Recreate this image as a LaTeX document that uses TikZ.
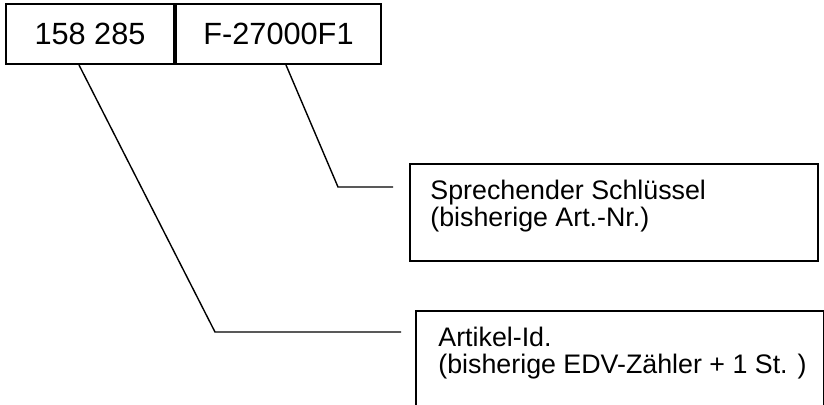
\documentclass[tikz,border=0pt]{standalone}
\usepackage{fontspec}
\setmainfont{Liberation Sans}
\usetikzlibrary{positioning}

\begin{document}
\begin{tikzpicture}[x=0.5pt,y=-0.5pt,
  cell/.style={rectangle,draw,line width=1pt,inner sep=0pt,minimum height=30pt,font=\fontsize{15.35}{18}\selectfont},
  note box/.style={rectangle,draw,line width=1pt,inner sep=0pt,anchor=north west,minimum width=204pt},
  note text/.style={align=left,inner sep=0pt,font=\fontsize{13.4}{13.5}\selectfont},
  lead/.style={line width=0.7pt}]

  \useasboundingbox (0,0) rectangle (824,405);

  % number field
  \node[cell,minimum width=84pt,anchor=north west] (id) at (5,3) {158 285\hspace{4.5pt}};
  \node[cell,minimum width=102.5pt,anchor=west] (key) at (id.east) {F-27000F1\hspace{4.5pt}};

  % explanations
  \node[note box,minimum height=48.5pt] (key box) at (409,163) {};
  \node[note text,below right=8.5pt and 10.5pt of key box.north west] (key text)
    {Sprechender Schlüssel\\(bisherige Art.-Nr.)};
  \node[note box,minimum height=50pt] (id box) at (415,310) {};
  \node[note text,below right=8.5pt and 11.5pt of id box.north west] (id text)
    {Artikel-Id.\\(bisherige EDV-Zähler + 1 St. )};

  % leader lines
  \coordinate (key bend) at (338,187);
  \coordinate (key end) at (393,187);
  \coordinate (id bend) at (215,332);
  \coordinate (id end) at (401,332);
  \draw[lead] ([xshift=3.75pt]key.south) -- (key bend) -- (key end);
  \draw[lead] ([xshift=-5.5pt]id.south) -- (id bend) -- (id end);

\end{tikzpicture}
\end{document}
